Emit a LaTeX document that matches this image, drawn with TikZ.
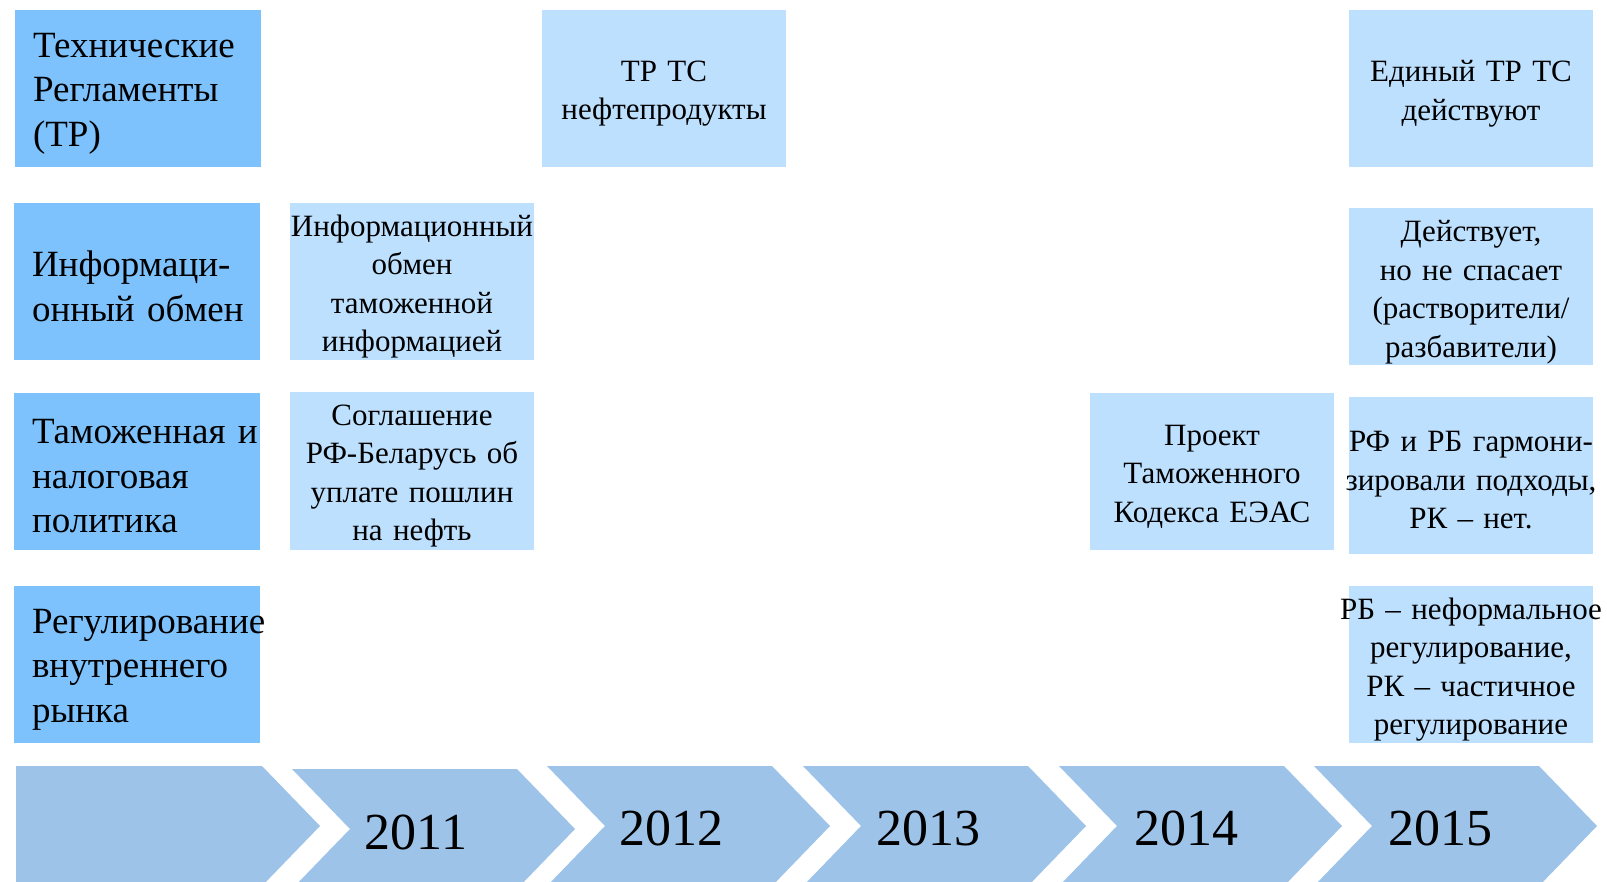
\documentclass[tikz,border=0pt]{standalone}
\usepackage{fontspec}
\setmainfont{Liberation Serif}
\definecolor{azultema}{RGB}{125,194,253}
\definecolor{azulhecho}{RGB}{189,224,254}
\definecolor{azulflecha}{RGB}{157,195,233}
\begin{document}
\begin{tikzpicture}[x=1pt,y=-1pt,
  caja/.style={minimum height=157pt, inner ysep=0pt, execute at end node=\endgraf\vspace{-10pt}},
  tema/.style={caja, fill=azultema, text width=210pt, inner xsep=18pt, align=left, font=\fontsize{37}{44.5}\selectfont},
  hecho/.style={caja, fill=azulhecho, text width=244pt, inner xsep=0pt, align=center, font=\fontsize{31}{38.5}\selectfont},
  anio/.style={anchor=base, inner sep=0pt, font=\fontsize{52}{52}\selectfont}]
% Marco
\useasboundingbox (0,0) rectangle (1607,882);
% Flechas de los años
\fill[azulflecha] (16,766) -- (262,766) -- (320,826) -- (262,886) -- (16,886) -- cycle;
\foreach \x/\dy in {292/3,547/0,803/0,1059/0,1314/0}
  \fill[azulflecha] (\x,766+\dy) -- ++(225,0) -- ++(58,60) -- ++(-58,60) -- ++(-225,0) -- ++(58,-60) -- cycle;
% Años
\foreach \a/\x/\y in {2011/416/849,2012/671/845,2013/928/845,2014/1186/845,2015/1440/845}
  \node[anio] (a\a) at (\x,\y) {\a};
% Temas (columna izquierda)
\node[tema] (tr) at (138,88.5) {Технические\\Регламенты\\(ТР)};
\node[tema] (info) at (137,281.5) {Информаци-\\онный~обмен};
\node[tema] (aduana) at (137,471.5) {Таможенная~и\\налоговая\\политика};
\node[tema] (mercado) at (137,664.5) {Регулирование\\внутреннего\\рынка};
% Hechos por año
\node[hecho] (trts) at (664,88.5) {ТР~ТС\\нефтепродукты};
\node[hecho] (trunico) at (1471,88.5) {Единый~ТР~ТС\\действуют};
\node[hecho] (infoint) at (412,281.5) {\makebox[\linewidth]{Информационный}\\обмен\\таможенной\\информацией};
\node[hecho] (infoact) at (1471,287) {Действует,\\но~не~спасает\\(растворители/\\разбавители)};
\node[hecho] (acuerdo) at (412,471) {Соглашение\\\makebox[\linewidth]{РФ-Беларусь об}\\уплате~пошлин\\на~нефть};
\node[hecho] (codigo) at (1212,471.5) {Проект\\Таможенного\\\makebox[\linewidth]{Кодекса ЕЭАС}};
\node[hecho] (armon) at (1471,475.5) {\makebox[\linewidth]{РФ и РБ гармони-}\\\makebox[\linewidth]{зировали подходы,}\\РК~–~нет.};
\node[hecho] (regul) at (1471,664.5) {\makebox[\linewidth]{РБ – неформальное}\\регулирование,\\РК~–~частичное\\регулирование};
\end{tikzpicture}
\end{document}
